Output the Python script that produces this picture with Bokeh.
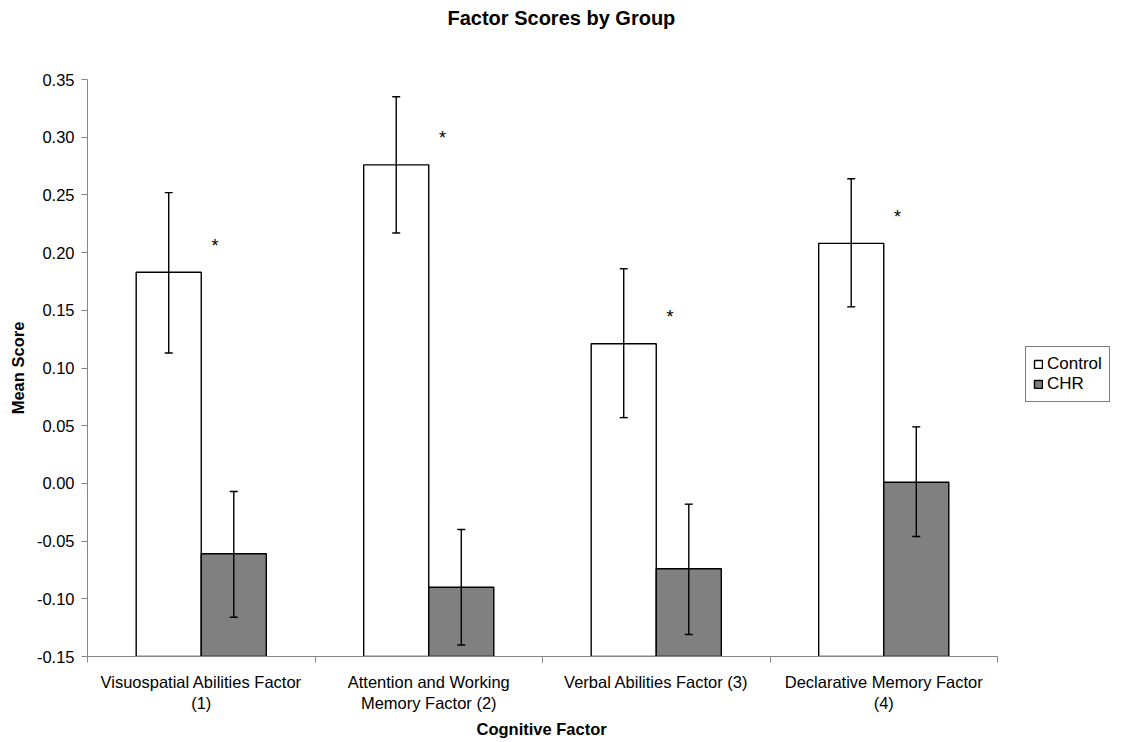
from bokeh.plotting import figure
from bokeh.models import (Range1d, LinearAxis, FixedTicker, PrintfTickFormatter,
                          ColumnDataSource, Whisker, TeeHead, Legend, LegendItem, Title)
from bokeh.core.properties import value
from bokeh.embed import file_html
from bokeh.resources import INLINE

# ---------------- data ----------------
categories = [
    "Visuospatial Abilities Factor\n(1)",
    "Attention and Working\nMemory Factor (2)",
    "Verbal Abilities Factor (3)",
    "Declarative Memory Factor\n(4)",
]
groups = ["Control", "CHR"]
control_mean = [0.183, 0.276, 0.121, 0.208]
control_upper = [0.252, 0.335, 0.186, 0.264]
control_lower = [0.113, 0.217, 0.057, 0.153]
chr_mean = [-0.061, -0.090, -0.074, 0.001]
chr_upper = [-0.007, -0.040, -0.018, 0.049]
chr_lower = [-0.116, -0.140, -0.131, -0.046]
significance = ["*", "*", "*", "*"]
y_ticks = [-0.15, -0.10, -0.05, 0.00, 0.05, 0.10, 0.15, 0.20, 0.25, 0.30, 0.35]

# ---------------- layout helpers ----------------
FONT = "Liberation Sans"
Y_MIN, Y_MAX = y_ticks[0], y_ticks[-1]
n = len(categories)
centers = [i + 0.5 for i in range(n)]
boundaries = [float(i) for i in range(n + 1)]
BAR_W = 0.286
x_ctrl = [c - BAR_W / 2 for c in centers]
x_chr = [c + BAR_W / 2 for c in centers]
x_star = [c + 0.06 for c in centers]
y_star = [m + 0.023 for m in control_mean]

AXIS_PX = 910          # pixel length of the category axis
FRAME_W = 1031         # frame also holds the legend on the right
X_END = n * FRAME_W / AXIS_PX

p = figure(frame_width=FRAME_W, frame_height=577,
           x_range=Range1d(0, X_END), y_range=Range1d(Y_MIN, Y_MAX),
           x_axis_type=None, y_axis_type=None,
           output_backend="svg", toolbar_location=None,
           min_border_left=87, min_border_right=0,
           min_border_top=79, min_border_bottom=70)
p.outline_line_color = None
p.background_fill_color = "white"
p.border_fill_color = "white"

# title
p.title.text = "Factor Scores by Group"
p.title.text_font = FONT
p.title.text_font_size = "20px"
p.title.text_font_style = "bold"
p.title.text_color = "black"
p.title.align = "left"
p.title.offset = 360
p.title.standoff = 0
p.title.padding = dict(left=0, right=0, top=0, bottom=51)

AXIS_COLOR = "#868686"

# y axis
yax = LinearAxis(ticker=FixedTicker(ticks=y_ticks, minor_ticks=[]),
                 formatter=PrintfTickFormatter(format="%.2f"))
yax.axis_label = "Mean Score"
yax.axis_label_text_font = FONT
yax.axis_label_text_font_size = "16.5px"
yax.axis_label_text_font_style = "bold"
yax.axis_label_text_color = "black"
yax.axis_label_standoff = 7
yax.major_label_text_font = FONT
yax.major_label_text_font_size = "16.5px"
yax.major_label_text_color = "black"
yax.major_label_standoff = 7
yax.axis_line_color = AXIS_COLOR
yax.major_tick_line_color = AXIS_COLOR
yax.major_tick_out = 6
yax.major_tick_in = 0
yax.minor_tick_line_color = None
p.add_layout(yax, "left")

# x axis: category labels at centres, boundary tick marks as minor ticks
xax = LinearAxis(ticker=FixedTicker(ticks=centers, minor_ticks=boundaries),
                 major_label_overrides={c: lab for c, lab in zip(centers, categories)},
                 bounds=(0, n))
xax.axis_line_color = AXIS_COLOR
xax.major_tick_line_color = None
xax.major_tick_out = 0
xax.major_tick_in = 0
xax.minor_tick_line_color = AXIS_COLOR
xax.minor_tick_out = 6
xax.minor_tick_in = 0
xax.major_label_text_font = FONT
xax.major_label_text_font_size = "16.5px"
xax.major_label_text_color = "black"
xax.major_label_standoff = 10
p.add_layout(xax, "below")

# x axis title, centred under the category axis (not under the legend area)
xtitle = Title(text="Cognitive Factor", text_font=FONT, text_font_size="16.5px",
               text_font_style="bold", text_color="black", align="left",
               offset=389, standoff=4)
p.add_layout(xtitle, "below")

# bars (drawn from the axis floor, as in the original)
src_c = ColumnDataSource(dict(x=x_ctrl, top=control_mean, up=control_upper, lo=control_lower))
src_h = ColumnDataSource(dict(x=x_chr, top=chr_mean, up=chr_upper, lo=chr_lower))
r1 = p.vbar(x="x", top="top", bottom=Y_MIN, width=BAR_W, source=src_c,
            fill_color="white", line_color="black", line_width=1.4)
r2 = p.vbar(x="x", top="top", bottom=Y_MIN, width=BAR_W, source=src_h,
            fill_color="#808080", line_color="black", line_width=1.4)

for src in (src_c, src_h):
    w = Whisker(base="x", upper="up", lower="lo", source=src,
                line_color="black", line_width=1.4, level="overlay",
                upper_head=TeeHead(size=8, line_color="black", line_width=1.4),
                lower_head=TeeHead(size=8, line_color="black", line_width=1.4))
    p.add_layout(w)

# significance stars
p.text(x=x_star, y=y_star, text=significance, text_font=value(FONT),
       text_font_size="18px", text_align="center", text_baseline="middle",
       text_color="black")

legend = Legend(items=[LegendItem(label=groups[0], renderers=[r1]),
                       LegendItem(label=groups[1], renderers=[r2])],
                location=(938, 254), orientation="vertical")
legend.label_text_font = FONT
legend.label_text_font_size = "17px"
legend.label_text_color = "black"
legend.glyph_width = 10
legend.glyph_height = 10
legend.label_standoff = 4
legend.label_height = 17
legend.spacing = 0
legend.padding = 7
legend.margin = 0
legend.border_line_color = "black"
legend.border_line_width = 1
legend.background_fill_color = "white"
p.add_layout(legend, "center")

open("out.html", "w").write(file_html(p, INLINE))
